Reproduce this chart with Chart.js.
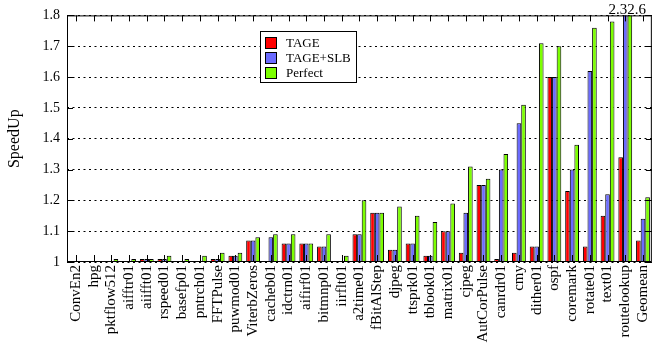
<!DOCTYPE html>
<html>
<head>
<meta charset="utf-8">
<script src="https://cdn.jsdelivr.net/npm/chart.js@4"></script>
<style>
  html, body { margin: 0; padding: 0; background: #fff; }
  #wrap { width: 664px; height: 345px; }
</style>
</head>
<body>
<div id="wrap"><canvas id="myChart"></canvas></div>
<script>
const benchmarks = ["ConvEn2", "hpg", "pktflow512", "aifftr01", "aiifft01", "rspeed01", "basefp01",
  "pntrch01", "FFTPulse", "puwmod01", "ViterbZeros", "cacheb01", "idctrn01", "aifirf01", "bitmnp01",
  "iirflt01", "a2time01", "fBitAlStep", "djpeg", "ttsprk01", "tblook01", "matrix01", "cjpeg",
  "AutCorPulse", "canrdr01", "cmy", "dither01", "ospf", "coremark", "rotate01", "text01",
  "routelookup", "Geomean"];

const tage = [1, 1, 1, 1, 1.01, 1.01, 1, 1, 1.01, 1.02, 1.07, 1, 1.06, 1.06, 1.05, 1, 1.09, 1.16,
  1.04, 1.06, 1.02, 1.10, 1.03, 1.25, 1.01, 1.03, 1.05, 1.60, 1.23, 1.05, 1.15, 1.34, 1.07];
const tageSlb = [1, 1, 1, 1, 1.01, 1.01, 1, 1, 1.01, 1.02, 1.07, 1.08, 1.06, 1.06, 1.05, 1, 1.09, 1.16,
  1.04, 1.06, 1.02, 1.10, 1.16, 1.25, 1.30, 1.45, 1.05, 1.60, 1.30, 1.62, 1.22, 2.3, 1.14];
const perfect = [1, 1, 1.01, 1.01, 1.01, 1.02, 1.01, 1.02, 1.03, 1.03, 1.08, 1.09, 1.09, 1.06, 1.09, 1.02,
  1.20, 1.16, 1.18, 1.15, 1.13, 1.19, 1.31, 1.27, 1.35, 1.51, 1.71, 1.70, 1.38, 1.76, 1.78, 2.6, 1.21];

const seriesNames = ["TAGE", "TAGE+SLB", "Perfect"];
const yTickLabels = ["1", "1.1", "1.2", "1.3", "1.4", "1.5", "1.6", "1.7", "1.8"];

const serif = "'Liberation Serif', 'Times New Roman', serif";

// frame, inner ticks, clipped-value labels and the boxed legend
const gnuplotBits = {
  id: "gnuplotBits",
  afterDatasetsDraw(chart) {
    const ctx = chart.ctx;
    const a = chart.chartArea;
    const x = chart.scales.x;
    const y = chart.scales.y;
    ctx.save();
    ctx.strokeStyle = "#000";
    ctx.lineWidth = 1;
    ctx.beginPath();
    y.ticks.forEach(t => {
      const py = Math.round(y.getPixelForValue(t.value)) + 0.5;
      ctx.moveTo(a.left, py); ctx.lineTo(a.left + 6, py);
      ctx.moveTo(a.right - 6, py); ctx.lineTo(a.right, py);
    });
    benchmarks.forEach((b, i) => {
      const px = Math.round(x.getPixelForValue(i)) + 0.5;
      ctx.moveTo(px, a.top); ctx.lineTo(px, a.top + 6);
      ctx.moveTo(px, a.bottom); ctx.lineTo(px, a.bottom - 7);
    });
    ctx.stroke();
    ctx.strokeRect(a.left + 0.5, a.top + 0.5, a.right - a.left - 1, a.bottom - a.top - 1);

    // values that run off the top of the plot
    ctx.fillStyle = "#000";
    ctx.font = "15px " + serif;
    ctx.textAlign = "center";
    ctx.textBaseline = "alphabetic";
    benchmarks.forEach((b, i) => {
      const over = chart.data.datasets.map(d => d.data[i]).filter(v => v > y.max);
      if (over.length) {
        ctx.fillText(over.map(v => v.toFixed(1)).join(""), x.getPixelForValue(i) + 2, a.top - 1);
      }
    });

    // legend box
    const lx = 260, ly = 31, lw = 96, lh = 51;
    ctx.fillStyle = "#fff";
    ctx.fillRect(lx, ly, lw, lh);
    ctx.strokeRect(lx + 0.5, ly + 0.5, lw, lh);
    ctx.font = "13px " + serif;
    ctx.textAlign = "left";
    ctx.textBaseline = "middle";
    chart.data.datasets.forEach((d, k) => {
      const cy = ly + 12 + k * 15;
      ctx.fillStyle = d.backgroundColor;
      ctx.fillRect(lx + 5, cy - 6, 12, 12);
      ctx.strokeRect(lx + 5.5, cy - 5.5, 11, 11);
      ctx.fillStyle = "#000";
      ctx.fillText(d.label, lx + 26, cy + 1);
    });
    ctx.restore();
  }
};

const colors = ["#ff0000", "#6b6bff", "#7cff00"];
const seriesData = [tage, tageSlb, perfect];

const ctx = document.getElementById("myChart").getContext("2d");
const myChart = new Chart(ctx, {
  type: "bar",
  data: {
    labels: benchmarks,
    datasets: seriesNames.map((name, k) => ({
      label: name,
      data: seriesData[k],
      backgroundColor: colors[k],
      borderColor: "#000",
      borderWidth: 1,
      borderSkipped: false,
      categoryPercentage: 0.78,
      barPercentage: 1,
      clip: 0,
    })),
  },
  options: {
    responsive: true,
    maintainAspectRatio: false,
    animation: false,
    layout: { padding: { top: 11, right: 1, left: 0, bottom: 0 } },
    plugins: { legend: { display: false }, tooltip: { enabled: false } },
    scales: {
      x: {
        offset: true,
        grid: { display: false, drawTicks: false },
        border: { display: false },
        ticks: {
          autoSkip: false,
          maxRotation: 90,
          minRotation: 90,
          padding: 3,
          color: "#000",
          font: { family: serif, size: 15 },
        },
        afterFit(scale) { scale.height = 83; },
      },
      y: {
        min: 1,
        max: 1.8,
        grid: { color: "#000", lineWidth: 1, drawTicks: false },
        border: { display: false, dash: [2, 3.5] },
        ticks: {
          stepSize: 0.1,
          padding: 7,
          color: "#000",
          font: { family: serif, size: 14 },
          callback: (v, i) => yTickLabels[i],
        },
        title: {
          display: true,
          text: "SpeedUp",
          color: "#000",
          padding: { top: 5, bottom: 0 },
          font: { family: serif, size: 16 },
        },
        afterFit(scale) { scale.width = 67; },
      },
    },
  },
  plugins: [gnuplotBits],
});
</script>
</body>
</html>
